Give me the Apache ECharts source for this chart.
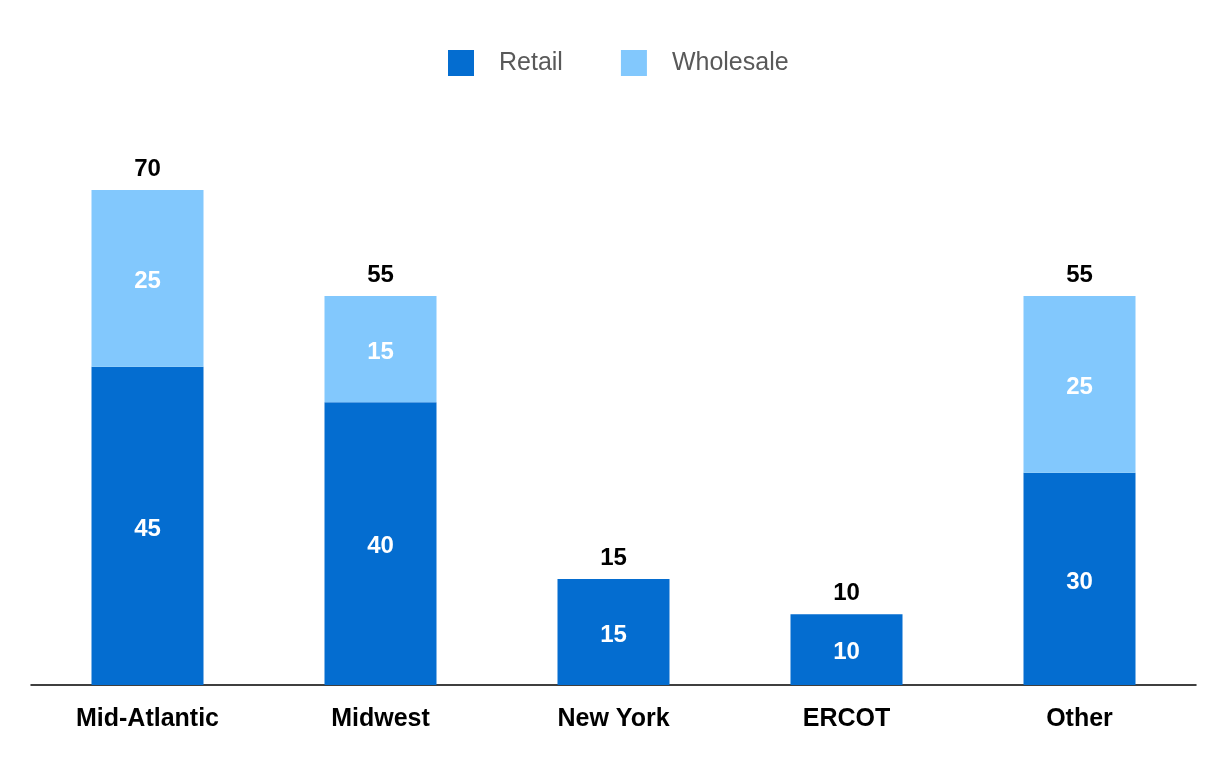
<!DOCTYPE html>
<html>
<head>
<meta charset="utf-8">
<script src="https://cdn.jsdelivr.net/npm/echarts@6/dist/echarts.min.js"></script>
<style>
html,body{margin:0;padding:0;background:#fff;}
#chart{width:1226px;height:760px;}
</style>
</head>
<body>
<div id="chart"></div>
<script>
const categories = ['Mid-Atlantic', 'Midwest', 'New York', 'ERCOT', 'Other'];
const retail = [45, 40, 15, 10, 30];
const wholesale = [25, 15, 0, 0, 25];
const totals = [70, 55, 15, 10, 55];

const FONT = '"Liberation Sans", Arial, sans-serif';
const chart = echarts.init(document.getElementById('chart'), null, {renderer: 'canvas'});

const insideLabel = {
  show: true,
  position: 'inside',
  offset: [0, 3],
  color: '#ffffff',
  fontWeight: 'bold',
  fontSize: 24,
  fontFamily: FONT,
  formatter: p => (p.value ? p.value : '')
};

chart.setOption({
  animation: false,
  backgroundColor: '#ffffff',
  legend: {
    data: ['Retail', 'Wholesale'],
    left: 443,
    top: 45,
    itemWidth: 26,
    itemHeight: 26,
    itemGap: 58,
    icon: 'rect',
    textStyle: {
      color: '#595959',
      fontSize: 25,
      fontFamily: FONT,
      padding: [0, 0, 0, 20]
    }
  },
  grid: {left: 31, right: 30, top: 190, bottom: 75, containLabel: false},
  xAxis: {
    type: 'category',
    data: categories,
    axisLine: {show: true, lineStyle: {color: '#000000', width: 1.5}},
    axisTick: {show: false},
    axisLabel: {
      color: '#000000',
      fontWeight: 'bold',
      fontSize: 25,
      fontFamily: FONT,
      margin: 22
    }
  },
  yAxis: {
    type: 'value',
    min: 0,
    max: 70,
    show: false,
    splitLine: {show: false}
  },
  series: [
    {
      name: 'Retail',
      type: 'bar',
      stack: 'total',
      barWidth: 112,
      data: retail,
      itemStyle: {color: '#046dd0'},
      label: insideLabel
    },
    {
      name: 'Wholesale',
      type: 'bar',
      stack: 'total',
      barWidth: 112,
      data: wholesale,
      itemStyle: {color: '#82c8fd'},
      label: insideLabel
    },
    {
      name: 'Total',
      type: 'bar',
      stack: 'total',
      barWidth: 112,
      data: categories.map(() => 0),
      itemStyle: {color: 'transparent'},
      label: {
        show: true,
        position: 'top',
        distance: 9,
        color: '#000000',
        fontWeight: 'bold',
        fontSize: 24,
        fontFamily: FONT,
        formatter: p => String(totals[p.dataIndex])
      }
    }
  ]
});
</script>
</body>
</html>
